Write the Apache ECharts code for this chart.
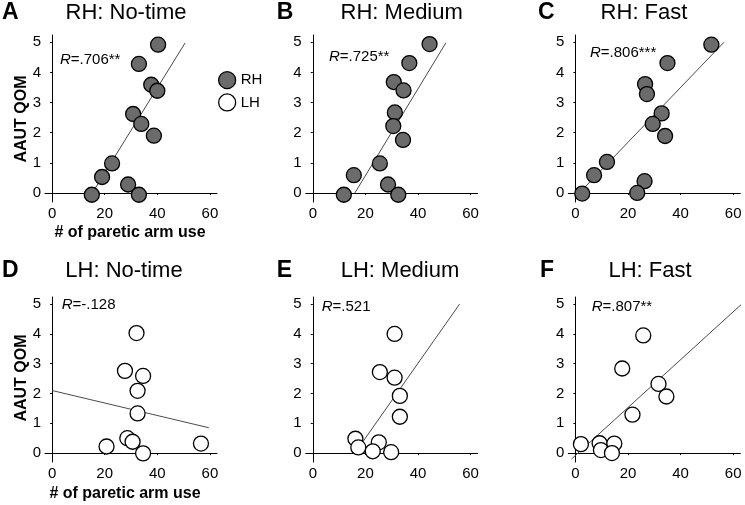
<!DOCTYPE html>
<html>
<head>
<meta charset="utf-8">
<script src="https://cdn.jsdelivr.net/npm/echarts@6/dist/echarts.min.js"></script>
<style>html,body{margin:0;padding:0;background:#fff}#c{width:745px;height:505px}</style>
</head>
<body>
<div id="c"></div>
<script>
// ---- data ----
const panelLetters = ['A', 'B', 'C', 'D', 'E', 'F'];
const panelTitles = ['RH: No-time', 'RH: Medium', 'RH: Fast', 'LH: No-time', 'LH: Medium', 'LH: Fast'];
const rLabels = ['.706**', '.725**', '.806***', '-.128', '.521', '.807**'];
const groups = ['RH', 'RH', 'RH', 'LH', 'LH', 'LH'];
const xTicks = [0, 20, 40, 60];
const yTicks = [0, 1, 2, 3, 4, 5];
const yTitle = 'AAUT QOM';
const xTitle = '# of paretic arm use';

const rhNoTimeX = [40.3, 33.0, 37.7, 40.0, 30.8, 33.9, 38.7, 22.8, 19.0, 28.9, 33.0, 15.1];
const rhNoTimeY = [4.92, 4.28, 3.59, 3.39, 2.62, 2.29, 1.90, 0.98, 0.53, 0.28, -0.06, -0.06];
const rhMediumX = [44.4, 36.7, 30.8, 34.5, 31.2, 30.6, 34.3, 25.5, 15.6, 28.6, 32.5, 11.8];
const rhMediumY = [4.94, 4.31, 3.68, 3.40, 2.67, 2.22, 1.76, 0.98, 0.59, 0.28, -0.06, -0.06];
const rhFastX = [51.7, 35.0, 26.5, 27.2, 32.8, 29.4, 34.1, 12.0, 7.1, 26.3, 23.5, 2.6];
const rhFastY = [4.92, 4.31, 3.61, 3.28, 2.64, 2.29, 1.89, 1.03, 0.59, 0.39, 0.0, -0.02];
const lhNoTimeX = [32.1, 27.7, 34.6, 32.5, 32.5, 28.6, 30.6, 20.7, 34.6, 56.6];
const lhNoTimeY = [4.03, 2.76, 2.59, 2.09, 1.33, 0.50, 0.38, 0.22, -0.01, 0.32];
const lhMediumX = [31.1, 25.5, 31.1, 33.1, 33.1, 16.2, 17.3, 25.1, 22.8, 29.8];
const lhMediumY = [4.00, 2.72, 2.53, 1.92, 1.22, 0.48, 0.19, 0.36, 0.06, 0.03];
const lhFastX = [25.8, 17.8, 31.6, 34.6, 21.7, 2.1, 9.2, 9.7, 14.8, 13.9];
const lhFastY = [3.95, 2.84, 2.32, 1.90, 1.29, 0.30, 0.33, 0.10, 0.32, 0.00];

// regression line end points [x0, x1], [y0, y1]
const fitX = [[15.3, 50.6], [16.0, 50.6], [1.5, 56.5], [0, 59.6], [16.0, 55.8], [-1.5, 64.2]];
const fitY = [[0, 4.98], [0, 4.98], [0, 5.0], [2.10, 0.85], [0, 5.0], [-0.2, 5.08]];

const allX = [rhNoTimeX, rhMediumX, rhFastX, lhNoTimeX, lhMediumX, lhFastX];
const allY = [rhNoTimeY, rhMediumY, rhFastY, lhNoTimeY, lhMediumY, lhFastY];

// ---- layout ----
const FONT = '"Liberation Sans", Arial, sans-serif';
const gridLefts = [45, 305.7, 568.3];
const gridTops = [35, 297];
const gridHeights = [167, 165];
const titleCX = [126, 401.7, 644, 124, 400, 650];
const titleCY = [13, 13, 13, 271, 271, 271];
const letterX = [2, 276.7, 538, 2, 276.7, 540];
const rX = [60, 329, 590, 61.7, 321.7, 591.7];
const rY = [60, 57, 53, 305, 306.5, 306.5];

const grids = [], xAxes = [], yAxes = [], series = [], graphics = [];
for (let i = 0; i < 6; i++) {
  const col = i % 3, row = Math.floor(i / 3);
  grids.push({left: gridLefts[col], top: gridTops[row], width: 172, height: gridHeights[row], containLabel: false});
  xAxes.push({
    type: 'value', gridIndex: i, min: -2.7, max: 62.7,
    splitLine: {show: false},
    axisLine: {lineStyle: {color: '#000', width: 1}},
    axisTick: {show: true, length: 2, customValues: xTicks, lineStyle: {color: '#000'}},
    axisLabel: {customValues: xTicks, color: '#000', fontSize: 15, fontFamily: FONT, margin: 4}
  });
  yAxes.push({
    type: 'value', gridIndex: i, min: -0.3, max: 5.24,
    splitLine: {show: false},
    axisLine: {show: true, lineStyle: {color: '#000', width: 1}},
    axisTick: {show: true, length: 2, customValues: yTicks, lineStyle: {color: '#000'}},
    axisLabel: {customValues: yTicks, color: '#000', fontSize: 15, fontFamily: FONT, margin: 4}
  });
  const rh = groups[i] === 'RH';
  series.push({
    type: 'line', xAxisIndex: i, yAxisIndex: i, clip: false, silent: true,
    data: [[fitX[i][0], fitY[i][0]], [fitX[i][1], fitY[i][1]]],
    showSymbol: false, symbol: 'none', z: 1,
    lineStyle: {color: '#4a4a4a', width: 1}
  });
  series.push({
    type: 'scatter', name: groups[i], xAxisIndex: i, yAxisIndex: i, z: 3,
    symbolSize: 15,
    data: allX[i].map((x, k) => [x, allY[i][k]]),
    itemStyle: {color: rh ? '#6b6b6b' : '#ffffff', borderColor: '#000', borderWidth: 1.3, opacity: 1}
  });
  graphics.push({type: 'text', style: {text: panelLetters[i], x: letterX[i], y: titleCY[i], font: 'bold 23px ' + FONT, fill: '#000', textVerticalAlign: 'middle'}});
  graphics.push({type: 'text', style: {text: panelTitles[i], x: titleCX[i], y: titleCY[i], font: '22px ' + FONT, fill: '#000', textAlign: 'center', textVerticalAlign: 'middle'}});
  graphics.push({type: 'text', style: {text: '{i|R}=' + rLabels[i], x: rX[i], y: rY[i], font: '15px ' + FONT, fill: '#000', textVerticalAlign: 'middle',
    rich: {i: {fontStyle: 'italic', fontSize: 15, fontFamily: FONT}}}});
}
// axis titles (left column)
graphics.push({type: 'text', rotation: Math.PI / 2, x: 22, y: 119, style: {text: yTitle, x: 0, y: 0, font: 'bold 16px ' + FONT, fill: '#000', textAlign: 'center', textVerticalAlign: 'middle'}});
graphics.push({type: 'text', rotation: Math.PI / 2, x: 22, y: 378, style: {text: yTitle, x: 0, y: 0, font: 'bold 16px ' + FONT, fill: '#000', textAlign: 'center', textVerticalAlign: 'middle'}});
graphics.push({type: 'text', style: {text: xTitle, x: 130, y: 233, font: 'bold 16px ' + FONT, fill: '#000', textAlign: 'center', textVerticalAlign: 'middle'}});
graphics.push({type: 'text', style: {text: xTitle, x: 125, y: 494, font: 'bold 16px ' + FONT, fill: '#000', textAlign: 'center', textVerticalAlign: 'middle'}});

const chart = echarts.init(document.getElementById('c'), null, {renderer: 'canvas'});
chart.setOption({
  animation: false,
  backgroundColor: '#fff',
  grid: grids, xAxis: xAxes, yAxis: yAxes, series: series,
  legend: {
    orient: 'vertical', left: 218, top: 71, itemWidth: 17, itemHeight: 17, itemGap: 4, padding: 0,
    icon: 'circle',
    textStyle: {fontSize: 15, fontFamily: FONT, color: '#000'},
    data: [
      {name: 'RH', itemStyle: {color: '#6b6b6b', borderColor: '#000', borderWidth: 1.3}},
      {name: 'LH', itemStyle: {color: '#fff', borderColor: '#000', borderWidth: 1.3}}
    ]
  },
  graphic: graphics
});
</script>
</body>
</html>
